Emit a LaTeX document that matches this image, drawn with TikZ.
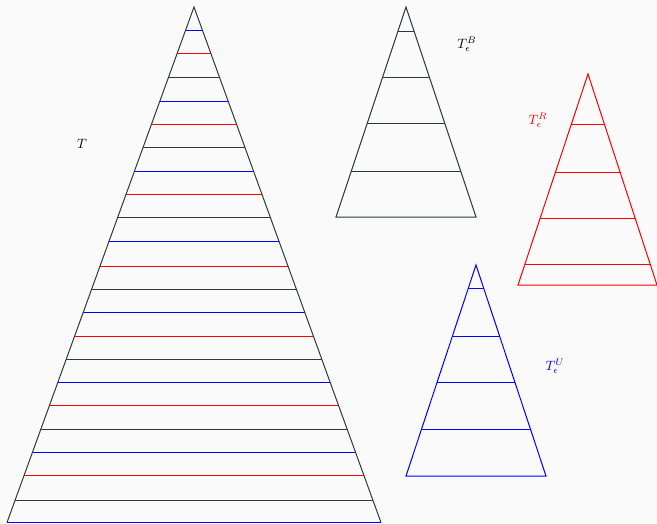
\documentclass[tikz,border=0pt]{standalone}
\definecolor{dk}{RGB}{45,58,58}
\definecolor{bl}{RGB}{0,0,255}
\definecolor{rd}{RGB}{255,0,0}
\begin{document}
\begin{tikzpicture}[x=1pt,y=-1pt,line width=1pt,
  lbl/.style={inner sep=0pt,scale=1.35}]
\fill[white!98!black] (0,0) rectangle (657,523);
\useasboundingbox (0,0) rectangle (657,523);
% big triangle T
\coordinate (A) at (194,7);
\coordinate (L) at (7,522.5);
\coordinate (R) at (381,522.5);
\draw[bl] foreach \y in {30.5,101.5,171,241,312,382,452.5,522.5}{
  ({194-0.362755*(\y-7)},\y) -- ({194+0.362755*(\y-7)},\y) };
\draw[rd] foreach \y in {53.5,124,194,266,336,405,475.5}{
  ({194-0.362755*(\y-7)},\y) -- ({194+0.362755*(\y-7)},\y) };
\draw[dk] foreach \y in {77,147.5,217.5,289,359,429,500}{
  ({194-0.362755*(\y-7)},\y) -- ({194+0.362755*(\y-7)},\y) };
\draw[dk] (L) -- (A) -- (R);
\node[lbl] (tT) at (82,143.5) {$T$};
% T_eps^B
\coordinate (BA) at (406,7);
\coordinate (BL) at (336,217);
\coordinate (BR) at (476,217);
\draw[dk] foreach \y in {31.3,77,123.5,171}{
  ({406-0.333333*(\y-7)},\y) -- ({406+0.333333*(\y-7)},\y) };
\draw[dk] (BA) -- (BL) -- (BR) -- cycle;
\node[lbl] (tB) at (467,44) {$T_\epsilon^B$};
% T_eps^R
\coordinate (RA) at (588,74);
\coordinate (RL) at (518,285);
\coordinate (RR) at (657,285);
\draw[rd] foreach \y in {124.3,172,218,264}{
  ({588-0.331754*(\y-74)},\y) -- ({588+0.331754*(\y-74)},\y) };
\draw[rd] (RA) -- (RL) -- (RR) -- cycle;
\node[lbl,text=rd] (tR) at (538,120) {$T_\epsilon^R$};
% T_eps^U
\coordinate (UA) at (476,265);
\coordinate (UL) at (406,476);
\coordinate (UR) at (546,476);
\draw[bl] foreach \y in {288.7,336,382,429}{
  ({476-0.331754*(\y-265)},\y) -- ({476+0.331754*(\y-265)},\y) };
\draw[bl] (UA) -- (UL) -- (UR) -- cycle;
\node[lbl,text=bl] (tU) at (555,366) {$T_\epsilon^U$};
\end{tikzpicture}
\end{document}
